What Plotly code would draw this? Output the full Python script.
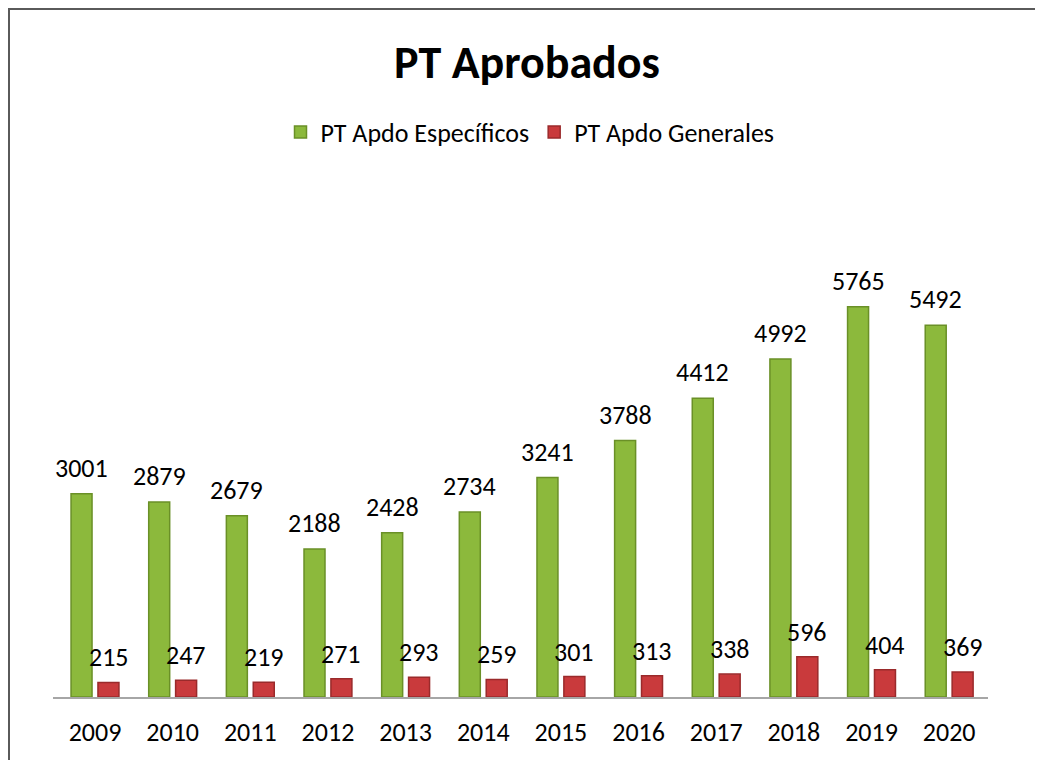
import plotly.graph_objects as go

years = ["2009", "2010", "2011", "2012", "2013", "2014", "2015", "2016", "2017", "2018", "2019", "2020"]
especificos = [3001, 2879, 2679, 2188, 2428, 2734, 3241, 3788, 4412, 4992, 5765, 5492]
generales = [215, 247, 219, 271, 293, 259, 301, 313, 338, 596, 404, 369]

FONT = "Calibri, Carlito, Lato, sans-serif"
GREEN = "#8cb93c"
GREEN_EDGE = "#6a9027"
RED = "#c93a3c"
RED_EDGE = "#9a2a2b"

fig = go.Figure()
fig.add_trace(go.Bar(name="PT Apdo Específicos", x=years, y=especificos,
                     marker=dict(color=GREEN, line=dict(color=GREEN_EDGE, width=1.5))))
fig.add_trace(go.Bar(name="PT Apdo Generales", x=years, y=generales,
                     marker=dict(color=RED, line=dict(color=RED_EDGE, width=1.5))))

annotations = []
for i, v in enumerate(especificos):
    annotations.append(dict(x=i, y=v, text=str(v), showarrow=False, xshift=-13.5, yshift=26,
                            yanchor="middle", font=dict(family=FONT, size=26, color="#000")))
for i, v in enumerate(generales):
    annotations.append(dict(x=i, y=v, text=str(v), showarrow=False, xshift=13.5, yshift=25,
                            yanchor="middle", font=dict(family=FONT, size=26, color="#000")))

# page is offset by 8px body margin; figure pixel = reference pixel - 8
OFF = 8
W, H = 1043, 760
L, R, T, B = 53 - OFF, W - (988 - OFF), 257 - OFF, H - (697 - OFF)
pw, ph = W - L - R, H - T - B

def px(xref_px):
    return (xref_px - OFF - L) / pw

def py(yref_px):
    return (H - B - (yref_px - OFF)) / ph

shapes = [dict(type="rect", xref="paper", yref="paper",
               x0=px(9), x1=px(1200), y0=py(900), y1=py(9),
               line=dict(color="#5a5a5a", width=2), fillcolor="rgba(0,0,0,0)", layer="above")]

fig.update_layout(
    width=W, height=H,
    margin=dict(l=L, r=R, t=T, b=B),
    paper_bgcolor="white", plot_bgcolor="white",
    barmode="group", bargap=0.307, bargroupgap=0.22,
    title=dict(text="<b>PT Aprobados</b>", x=(527 - OFF) / W, y=1 - (62 - OFF) / H,
               xanchor="center", yanchor="middle", xref="container", yref="container",
               font=dict(family=FONT, size=46, color="#000")),
    legend=dict(orientation="h", x=px(530), y=py(132), xanchor="center", yanchor="middle",
                font=dict(family=FONT, size=26, color="#000"), itemwidth=30,
                tracegroupgap=0, bgcolor="rgba(0,0,0,0)"),
    xaxis=dict(type="category", showline=True, linecolor="#a6a6a6", linewidth=2, ticks="",
               tickfont=dict(family=FONT, size=26, color="#000"), ticklabelstandoff=11,
               showgrid=False),
    yaxis=dict(range=[0, 6500], visible=False, showgrid=False, zeroline=False),
    annotations=annotations,
    shapes=shapes,
    showlegend=True,
)

fig.write_html("out.html")
